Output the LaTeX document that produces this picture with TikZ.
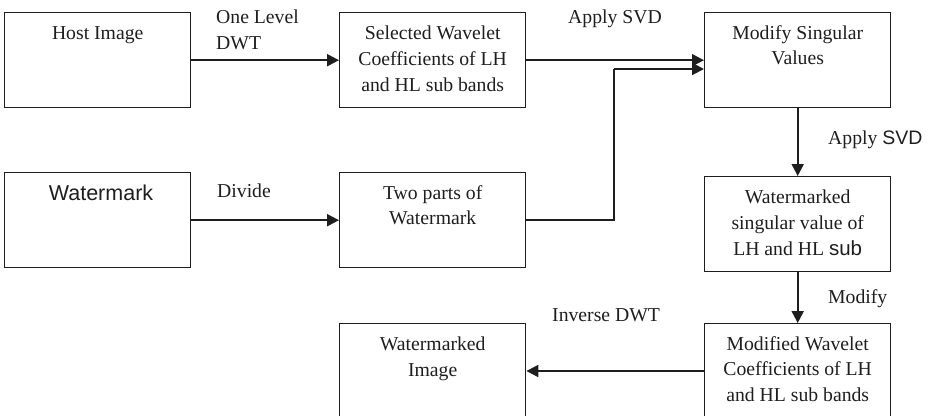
\documentclass[tikz,border=0pt]{standalone}
\usepackage{fontspec}
\setmainfont{Liberation Serif}
\setsansfont{Liberation Sans}
\usetikzlibrary{arrows.meta}
\definecolor{ink}{HTML}{1E1E1E}
\begin{document}
\begin{tikzpicture}[x=1pt,y=-1pt,
  box/.style={draw=ink, line width=1.4pt, minimum width=186pt, minimum height=95pt,
    anchor=north west, inner sep=0pt},
  txt/.style={anchor=north, align=center, inner sep=0pt, text=ink,
    font=\fontsize{19.7}{25.7}\selectfont},
  lbl/.style={inner sep=0pt, text=ink, font=\fontsize{19.7}{25.7}\selectfont},
  flow/.style={draw=ink, line width=2pt, -{Triangle[length=12pt,width=12pt]}},
  wire/.style={draw=ink, line width=2pt}]
\useasboundingbox (0,0) rectangle (933,415);
\clip (0,0) rectangle (933,415);

% boxes
\node[box] (host) at (4,12) {};
\node[box] (sel) at (339,12) {};
\node[box] (mod) at (704,12) {};
\node[box] (wm) at (4,172) {};
\node[box] (two) at (339,172) {};
\node[box] (wsv) at (704,176) {};
\node[box] (wimg) at (339,323) {};
\node[box] (modw) at (704,323) {};

% box texts
\node[txt] (thost) at ([yshift=-14pt]host.north) {Host Image};
\node[txt] (tsel) at ([yshift=-14pt]sel.north) {Selected Wavelet\\Coefficients of LH\\and HL sub bands};
\node[txt] (tmod) at ([yshift=-13pt]mod.north) {Modify Singular\\Values};
\node[anchor=base, inner sep=0pt, text=ink, font=\sffamily\fontsize{21.5}{26}\selectfont] (twm) at (101,200) {Watermark};
\node[txt] (ttwo) at ([yshift=-13pt]two.north) {Two parts of\\Watermark};
\node[txt] (twsv) at ([yshift=-14pt]wsv.north) {Watermarked\\singular value of\\LH and HL {\sffamily\fontsize{20.5}{25}\selectfont sub}};
\node[txt] (twimg) at ([yshift=-14pt]wimg.north) {Watermarked\\Image};
\node[txt] (tmodw) at ([yshift=-13pt]modw.north) {Modified Wavelet\\Coefficients of LH\\and HL sub bands};

% connector labels
\node[lbl, anchor=north west, align=left] (l1) at (216,10) {One Level\\DWT};
\node[lbl, anchor=base west] (l2) at (568,23) {Apply SVD};
\node[lbl, anchor=base west] (l3) at (828,144) {Apply {\sffamily\fontsize{19.5}{22}\selectfont SVD}};
\node[lbl, anchor=base west] (l4) at (217,197) {Divide};
\node[lbl, anchor=base west] (l5) at (828,303) {Modify};
\node[lbl, anchor=base west] (l6) at (552,321) {Inverse DWT};

% connectors
\draw[flow] (host.east) -- (sel.west);
\draw[flow] (sel.east) -- (mod.west);
\coordinate (bend) at (614,69);
\draw[wire] (two.east) -| (bend);
\draw[flow] (bend) -- (mod.west |- bend);
\draw[flow] (wm.east) -- (two.west);
\draw[flow] (mod.south) -- (wsv.north);
\draw[flow] (wsv.south) -- (modw.north);
\draw[flow] (modw.west |- 0,371) -- (wimg.east |- 0,371);
\end{tikzpicture}
\end{document}
